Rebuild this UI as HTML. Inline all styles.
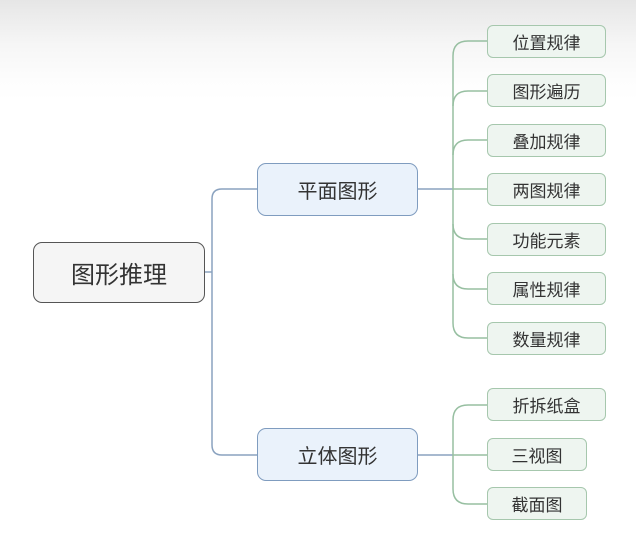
<!DOCTYPE html>
<html><head><meta charset="utf-8"><style>
body{margin:0;width:636px;height:539px;overflow:hidden;background:linear-gradient(#e6e6e6 0px,#f6f6f6 45px,#fdfdfd 80px,#fff 100px);font-family:"Liberation Sans","Noto Sans CJK SC",sans-serif;}
.n{position:absolute;box-sizing:border-box;display:flex;align-items:center;justify-content:center;color:#333;}
.root{left:33px;top:242px;width:172px;height:61px;background:#f5f5f5;border:1.5px solid #555;border-radius:9px;font-size:24px;}
.mid{left:257px;width:161px;height:53px;background:#eaf2fb;border:1.5px solid #7f9cbf;border-radius:9px;font-size:20px;}
.leaf{left:487px;width:119px;height:33px;background:#eef5f0;border:1.5px solid #a6c7ad;border-radius:6px;font-size:17px;}
svg{position:absolute;left:0;top:0;}
</style></head><body>
<svg width="636" height="539" fill="none">
<g stroke="#8aa2bf" stroke-width="1.5">
<path d="M205 272 H212"/>
<path d="M257 189 H222 Q212 189 212 199 V445 Q212 455 222 455 H257"/>
<path d="M418 189 H453"/>
<path d="M418 455 H453"/>
</g>
<g stroke="#97bfa1" stroke-width="1.5">
<path d="M487 41 H468 Q453 41 453 56 V323 Q453 338 468 338 H487"/>
<path d="M487 91 H468 Q453 91 453 106"/>
<path d="M487 140 H468 Q453 140 453 155"/>
<path d="M453 189 H487"/>
<path d="M453 224 Q453 239 468 239 H487"/>
<path d="M453 274 Q453 289 468 289 H487"/>
<path d="M487 405 H468 Q453 405 453 420 V489 Q453 504 468 504 H487"/>
<path d="M453 455 H487"/>
</g>
</svg>
<div class="n root">图形推理</div>
<div class="n mid" style="top:163px">平面图形</div>
<div class="n mid" style="top:428px">立体图形</div>
<div class="n leaf" style="top:25px">位置规律</div>
<div class="n leaf" style="top:74px">图形遍历</div>
<div class="n leaf" style="top:124px">叠加规律</div>
<div class="n leaf" style="top:173px">两图规律</div>
<div class="n leaf" style="top:223px">功能元素</div>
<div class="n leaf" style="top:272px">属性规律</div>
<div class="n leaf" style="top:322px">数量规律</div>
<div class="n leaf" style="top:388px">折拆纸盒</div>
<div class="n leaf" style="top:438px;width:100px">三视图</div>
<div class="n leaf" style="top:487px;width:100px">截面图</div>
</body></html>
